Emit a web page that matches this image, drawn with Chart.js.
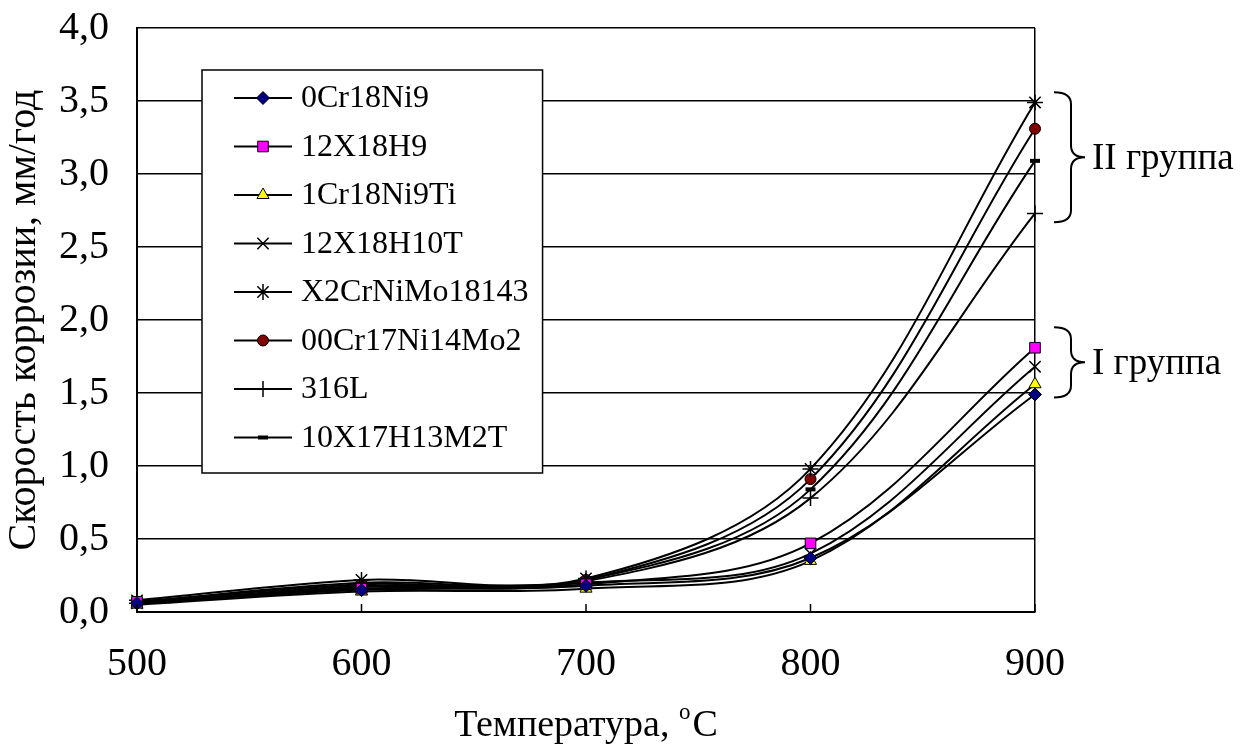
<!DOCTYPE html>
<html>
<head>
<meta charset="utf-8">
<script src="https://cdn.jsdelivr.net/npm/chart.js@4/dist/chart.umd.min.js"></script>
<style>
  html, body { margin: 0; background: #fff; }
  #wrap { width: 1240px; height: 747px; }
</style>
</head>
<body>
<div id="wrap"><canvas id="chart"></canvas></div>
<script>
const temps = [500, 600, 700, 800, 900];
const yTicks = [0, 0.5, 1, 1.5, 2, 2.5, 3, 3.5, 4];

const steelNames = ['0Cr18Ni9', '12X18H9', '1Cr18Ni9Ti', '12X18H10T', 'X2CrNiMo18143', '00Cr17Ni14Mo2', '316L', '10X17H13M2T'];
const s0Cr18Ni9      = [0.06, 0.15, 0.18, 0.37, 1.49];
const s12X18H9       = [0.07, 0.16, 0.19, 0.47, 1.81];
const s1Cr18Ni9Ti    = [0.05, 0.14, 0.16, 0.35, 1.56];
const s12X18H10T     = [0.06, 0.17, 0.20, 0.40, 1.68];
const sX2CrNiMo18143 = [0.08, 0.22, 0.23, 0.98, 3.49];
const s00Cr17Ni14Mo2 = [0.07, 0.19, 0.22, 0.91, 3.31];
const s316L          = [0.06, 0.18, 0.21, 0.78, 2.73];
const s10X17H13M2T   = [0.07, 0.20, 0.22, 0.84, 3.09];

const groups = [
  { label: 'II группа', from: 3.56, to: 2.67 },
  { label: 'I группа', from: 1.95, to: 1.47 },
];

const FONT = '"Liberation Serif", "Times New Roman", serif';
const TICK = 40, TITLE = 38, LEG = 32, GRP = 37;

const allValues = [s0Cr18Ni9, s12X18H9, s1Cr18Ni9Ti, s12X18H10T, sX2CrNiMo18143, s00Cr17Ni14Mo2, s316L, s10X17H13M2T];
const markers = [
  { style: 'rectRot', r: 6.5, fill: '#000080', bw: 1 },
  { style: 'rect', r: 7.5, fill: '#ff00ff', bw: 1 },
  { style: 'triangle', r: 7, fill: '#ffff00', bw: 1 },
  { style: 'crossRot', r: 8, fill: '#000', bw: 1.5 },
  { style: 'star', r: 8, fill: '#000', bw: 1.5 },
  { style: 'circle', r: 5.5, fill: '#800000', bw: 1 },
  { style: 'cross', r: 8, fill: '#000', bw: 1.5 },
  { style: 'line', r: 5, fill: '#000', bw: 4 },
];

const datasets = steelNames.map((name, i) => ({
  label: name,
  data: temps.map((t, j) => ({ x: t, y: allValues[i][j] })),
  borderColor: '#000',
  borderWidth: 2,
  tension: 0.35,
  pointStyle: markers[i].style,
  pointRadius: markers[i].r,
  pointBackgroundColor: markers[i].fill,
  pointBorderColor: '#000',
  pointBorderWidth: markers[i].bw,
  clip: 12,
}));

const fmt = v => v.toFixed(1).replace('.', ',');

const decor = {
  id: 'decor',
  afterDraw(chart) {
    const { ctx, chartArea: a, scales: { x, y } } = chart;
    ctx.save();
    ctx.fillStyle = '#000';
    ctx.strokeStyle = '#000';

    // inner tick marks on x axis
    ctx.lineWidth = 1.5;
    temps.forEach(t => {
      const px = x.getPixelForValue(t);
      ctx.beginPath();
      ctx.moveTo(px, a.bottom);
      ctx.lineTo(px, a.bottom - 8);
      ctx.stroke();
    });

    // x axis title with superscript
    const big = TITLE + 'px ' + FONT;
    const small = Math.round(TITLE * 0.6) + 'px ' + FONT;
    ctx.textBaseline = 'alphabetic';
    ctx.textAlign = 'left';
    const t1 = 'Температура, ', t3 = 'C';
    ctx.font = big;
    const w1 = ctx.measureText(t1).width, w3 = ctx.measureText(t3).width;
    ctx.font = small;
    const w2 = ctx.measureText('o').width + 2;
    const sx = (a.left + a.right) / 2 - (w1 + w2 + w3) / 2;
    const base = 736;
    ctx.font = big;
    ctx.fillText(t1, sx, base);
    ctx.font = small;
    ctx.fillText('o', sx + w1, base - TITLE * 0.45);
    ctx.font = big;
    ctx.fillText(t3, sx + w1 + w2, base);

    // legend
    const lx = 202, ly = 70, rowH = 48.5;
    ctx.font = LEG + 'px ' + FONT;
    let maxW = 0;
    steelNames.forEach(n => { maxW = Math.max(maxW, ctx.measureText(n).width); });
    const boxW = 99 + maxW + 14, boxH = rowH * steelNames.length + 15;
    ctx.fillStyle = '#fff';
    ctx.fillRect(lx, ly, boxW, boxH);
    ctx.lineWidth = 1.5;
    ctx.strokeRect(lx, ly, boxW, boxH);
    steelNames.forEach((n, i) => {
      const cy = ly + 28 + i * rowH;
      ctx.lineWidth = 2;
      ctx.beginPath();
      ctx.moveTo(lx + 32, cy);
      ctx.lineTo(lx + 90, cy);
      ctx.stroke();
      ctx.fillStyle = markers[i].fill;
      ctx.lineWidth = markers[i].bw;
      Chart.helpers.drawPoint(ctx, { pointStyle: markers[i].style, radius: markers[i].r, rotation: 0, borderWidth: markers[i].bw }, lx + 61, cy);
      ctx.fillStyle = '#000';
      ctx.textAlign = 'left';
      ctx.textBaseline = 'middle';
      ctx.fillText(n, lx + 99, cy + 1);
    });

    // group braces
    const bx0 = a.right + 19, bx1 = a.right + 36, bx2 = a.right + 50;
    ctx.lineWidth = 2;
    groups.forEach(g => {
      const top = y.getPixelForValue(g.from), bot = y.getPixelForValue(g.to);
      const mid = (top + bot) / 2, r = 12;
      ctx.beginPath();
      ctx.moveTo(bx0, top);
      ctx.quadraticCurveTo(bx1, top, bx1, top + r);
      ctx.lineTo(bx1, mid - r);
      ctx.quadraticCurveTo(bx1, mid, bx2, mid);
      ctx.quadraticCurveTo(bx1, mid, bx1, mid + r);
      ctx.lineTo(bx1, bot - r);
      ctx.quadraticCurveTo(bx1, bot, bx0, bot);
      ctx.stroke();
      ctx.font = GRP + 'px ' + FONT;
      ctx.textAlign = 'left';
      ctx.textBaseline = 'middle';
      ctx.fillText(g.label, bx2 + 7, mid + 2);
    });
    ctx.restore();
  }
};

new Chart(document.getElementById('chart'), {
  type: 'line',
  data: { datasets },
  options: {
    responsive: true,
    maintainAspectRatio: false,
    animation: false,
    layout: { padding: { left: 0, right: 205, top: 28, bottom: 0 } },
    plugins: { legend: { display: false }, tooltip: { enabled: false } },
    scales: {
      x: {
        type: 'linear', min: 500, max: 900,
        afterBuildTicks: s => { s.ticks = temps.map(v => ({ value: v })); },
        grid: {
          drawTicks: false,
          lineWidth: 1.5,
          color: c => (c.tick && c.tick.value === 900 ? '#000' : 'rgba(0,0,0,0)'),
        },
        border: { color: '#000', width: 2 },
        ticks: { color: '#000', font: { family: FONT, size: TICK }, padding: 28 },
        afterFit: s => { s.height = 135; s.paddingLeft = 0; s.paddingRight = 0; },
      },
      y: {
        min: 0, max: 4,
        afterBuildTicks: s => { s.ticks = yTicks.map(v => ({ value: v })); },
        grid: { drawTicks: false, color: '#000', lineWidth: 1.5 },
        border: { color: '#000', width: 2 },
        ticks: { color: '#000', font: { family: FONT, size: TICK }, padding: 28, callback: v => fmt(v) },
        title: { display: true, text: 'Скорость коррозии, мм/год', color: '#000', font: { family: FONT, size: TICK }, padding: 0 },
        afterFit: s => { s.width = 137; s.paddingTop = 0; s.paddingBottom = 0; },
      },
    },
  },
  plugins: [decor],
});
</script>
</body>
</html>
